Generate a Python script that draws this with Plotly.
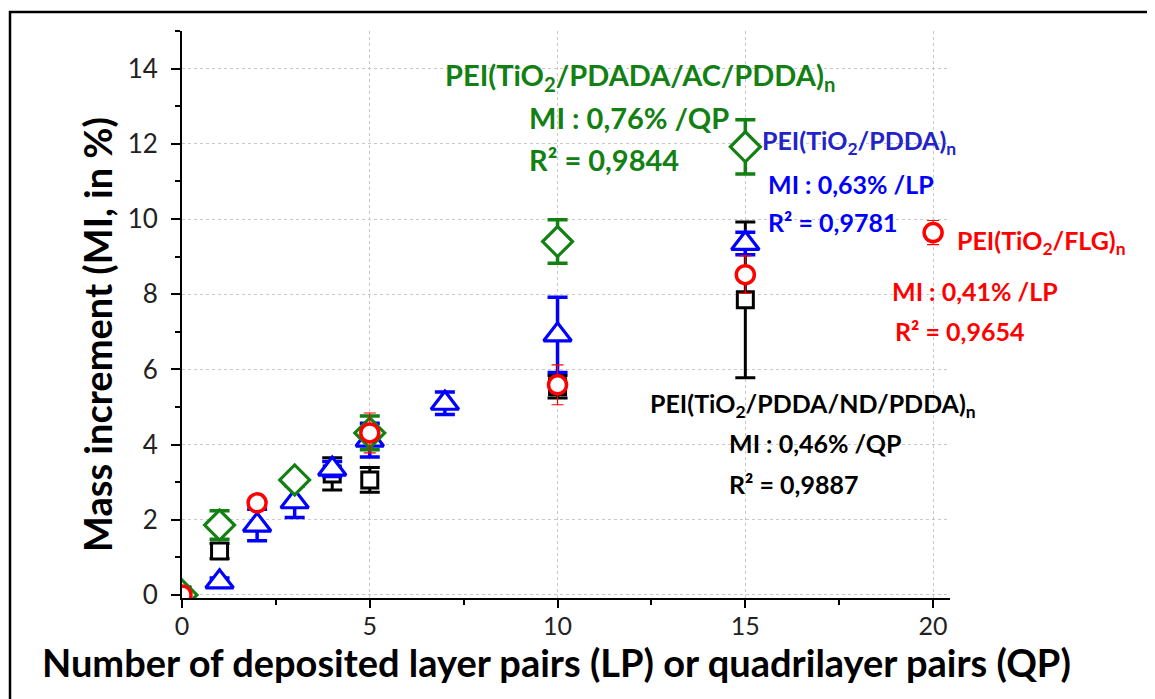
import plotly.graph_objects as go

# ---- data ----
black_x = [0, 1, 4, 5, 10, 15]
black_y = [0, 1.17, 3.22, 3.06, 5.54, 7.85]
black_err = [0, 0.2, 0.43, 0.33, 0.3, 2.07]

blue_x = [0, 1, 2, 3, 4, 5, 7, 10, 15]
blue_y = [0, 0.35, 1.86, 2.48, 3.35, 4.12, 5.1, 6.92, 9.35]
blue_err = [0, 0.1, 0.42, 0.42, 0.2, 0.45, 0.3, 1.0, 0.3]

green_x = [0, 1, 3, 5, 10, 15]
green_y = [0, 1.86, 3.06, 4.31, 9.4, 11.92]
green_err = [0, 0.38, 0.1, 0.45, 0.58, 0.72]

red_x = [0, 2, 5, 10, 15, 20]
red_y = [0, 2.45, 4.31, 5.59, 8.52, 9.64]
red_err = [0, 0.1, 0.53, 0.53, 0.5, 0.32]

x_ticks = [0, 5, 10, 15, 20]
y_ticks = [0, 2, 4, 6, 8, 10, 12, 14]

BLACK = "#000000"
BLUE = "#0000ff"
GREEN = "#138013"
RED = "#ff0000"
FONT = "Lato"

fig = go.Figure()

def add(x, y, err, color, symbol, size, lw, ethick, ewidth):
    fig.add_trace(go.Scatter(
        x=x, y=y, mode="markers",
        marker=dict(symbol=symbol, size=size, color="white",
                    line=dict(color=color, width=lw)),
        error_y=dict(type="data", array=err, visible=True, color=color,
                     thickness=ethick, width=ewidth),
        showlegend=False))

add(black_x, black_y, black_err, BLACK, "square", 16, 3, 3, 10)
add(blue_x, blue_y, blue_err, BLUE, "triangle-up", 24, 3.2, 3.5, 10)
add(green_x, green_y, green_err, GREEN, "diamond", 23, 3.2, 3.5, 10)
add(red_x, red_y, red_err, RED, "circle", 18, 3.5, 1.2, 6)

XMAX = 20.45

def ann(x, y, text, color, size):
    fig.add_annotation(x=x / XMAX, y=y, xref="paper", yref="y", text=text,
                       showarrow=False, xanchor="left", yanchor="middle",
                       font=dict(family=FONT, size=size, color=color))

GS = 29
ann(6.95, 13.79, "<b>PEI(TiO<sub>2</sub>/PDADA/AC/PDDA)<sub>n</sub></b>", GREEN, GS)
ann(9.19, 12.70, "<b>MI : 0,76% /QP</b>", GREEN, GS)
ann(9.19, 11.58, "<b>R² = 0,9844</b>", GREEN, GS)

OS = 25
ann(15.39, 12.06, "<b>PEI(TiO<sub>2</sub>/PDDA)<sub>n</sub></b>", "#2323c8", OS)
ann(15.55, 10.94, "<b>MI : 0,63% /LP</b>", BLUE, OS)
ann(15.55, 9.93, "<b>R² = 0,9781</b>", BLUE, OS)

ann(20.59, 9.40, "<b>PEI(TiO<sub>2</sub>/FLG)<sub>n</sub></b>", RED, OS)
ann(18.85, 8.09, "<b>MI : 0,41% /LP</b>", RED, OS)
ann(18.93, 7.03, "<b>R² = 0,9654</b>", RED, OS)

ann(12.41, 5.06, "<b>PEI(TiO<sub>2</sub>/PDDA/ND/PDDA)<sub>n</sub></b>", BLACK, OS)
ann(14.51, 4.05, "<b>MI : 0,46% /QP</b>", BLACK, OS)
ann(14.51, 2.95, "<b>R² = 0,9887</b>", BLACK, OS)

# layout (page has an 8px body margin)
L, R, T, B = 174, 213, 23, 109
pw = 1155 - L - R
ph = 699 - T - B
bottom_px = 699 - B

def px_x(p):
    return (p - L) / pw

def px_y(p):
    return (bottom_px - p) / ph

# axis titles as paper annotations (positions in figure pixels)
fig.add_annotation(x=px_x(548), y=px_y(654), xref="paper", yref="paper",
                   text="<b>Number of deposited layer pairs (LP) or quadrilayer pairs (QP)</b>",
                   showarrow=False, xanchor="center", yanchor="middle",
                   font=dict(family=FONT, size=38, color="black"))
fig.add_annotation(x=px_x(89), y=px_y(327), xref="paper", yref="paper",
                   text="<b>Mass increment (MI, in %)</b>", textangle=-90,
                   showarrow=False, xanchor="center", yanchor="middle",
                   font=dict(family=FONT, size=38, color="black"))

fig.add_shape(type="rect", xref="paper", yref="paper",
              x0=px_x(2), x1=px_x(1175),
              y0=px_y(740), y1=px_y(4),
              line=dict(color="black", width=2.5), layer="above")

axis_common = dict(showline=True, linecolor="black", linewidth=2,
                   ticks="outside", tickwidth=2, tickcolor="black",
                   showgrid=True, gridcolor="#c8c8c8", griddash="dot",
                   gridwidth=1, zeroline=False)

fig.update_xaxes(range=[0, XMAX], tickvals=x_ticks, ticklen=8,
                 ticklabelstandoff=-3,
                 tickfont=dict(family=FONT, size=25, color="#222"),
                 minor=dict(dtick=2.5, ticks="outside", ticklen=5,
                            tickwidth=2, tickcolor="black", showgrid=False),
                 **axis_common)
fig.update_yaxes(range=[-0.08, 15], tickvals=y_ticks, ticklen=9,
                 ticklabelstandoff=8,
                 tickfont=dict(family=FONT, size=26, color="#222"),
                 minor=dict(dtick=1, ticks="outside", ticklen=5,
                            tickwidth=2, tickcolor="black", showgrid=False),
                 **axis_common)

fig.update_layout(width=1155, height=699,
                  margin=dict(l=L, r=R, t=T, b=B, autoexpand=False),
                  paper_bgcolor="white", plot_bgcolor="white")

fig.write_html("out.html")
